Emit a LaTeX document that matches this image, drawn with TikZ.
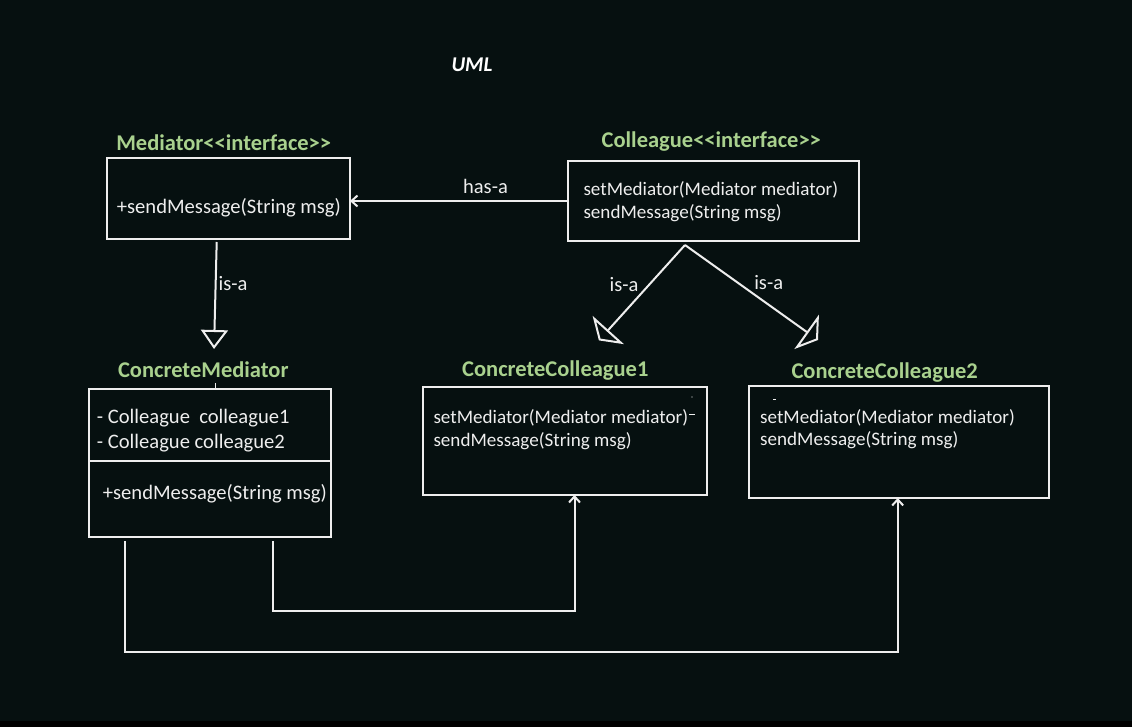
\documentclass[tikz,border=0pt]{standalone}
\usepackage{fontspec}
\setmainfont{Carlito}
\usetikzlibrary{arrows.meta,calc}
\definecolor{bg}{RGB}{6,16,16}
\definecolor{lbl}{RGB}{169,209,142}
\definecolor{ink}{RGB}{238,238,238}
\begin{document}
\begin{tikzpicture}[x=1pt,y=-1pt,
  box/.style={draw=ink,line width=2pt,inner sep=0pt,outer sep=0pt,anchor=north west},
  head/.style={text=lbl,font=\bfseries\fontsize{22.5}{26}\selectfont,inner sep=0pt},
  bodyA/.style={text=ink,font=\fontsize{20.6}{24}\selectfont,inner sep=0pt,anchor=west},
  bodyB/.style={text=ink,font=\fontsize{19.1}{23}\selectfont,inner sep=0pt,anchor=west},
  tag/.style={text=ink,font=\fontsize{20.5}{24}\selectfont,inner sep=0pt},
  conn/.style={draw=ink,line width=2pt},
  flow/.style={conn,-{Straight Barb[length=6pt,width=11pt]}},
  isav/.style={conn,-{Triangle[open,length=19pt,width=27pt]}},
  isad/.style={conn,-{Triangle[open,length=14pt,width=42pt]}},
  speck/.style={draw=ink,line width=1pt}]
\useasboundingbox (0,0) rectangle (1132,727);
\fill[bg] (0,0) rectangle (1132,721);
\fill[black] (0,721) rectangle (1132,727);

% title
\node[text=white,font=\bfseries\itshape\fontsize{21}{25}\selectfont,inner sep=0pt] (title) at (472,64.5) {UML};

% boxes
\node[box,minimum width=243pt,minimum height=81pt] (med) at (107,158) {};
\node[box,minimum width=291pt,minimum height=80pt] (col) at (568,161) {};
\node[box,minimum width=242pt,minimum height=148pt] (cm) at (89,389) {};
\node[box,minimum width=284pt,minimum height=108pt] (cc1) at (423,387) {};
\node[box,minimum width=300pt,minimum height=112pt] (cc2) at (749,386) {};
\draw[conn] (cm.west |- 0,461) -- (cm.east |- 0,461);

% headings
\node[head] (hmed) at (223.7,143) {Mediator<{}<interface>{}>};
\node[head] (hcol) at (711.3,141.5) {Colleague<{}<interface>{}>};
\node[head] (hcm) at (203.3,370) {ConcreteMediator};
\node[head] (hcc1) at (555.3,370.5) {ConcreteColleague1};
\node[head] (hcc2) at (884.7,372.3) {ConcreteColleague2};

% members
\node[bodyA] (tmed) at (116.7,208) {+sendMessage(String msg)};
\node[bodyB] (tcol1) at (583.3,190) {setMediator(Mediator mediator)};
\node[bodyB] (tcol2) at (583.3,213.3) {sendMessage(String msg)};
\node[bodyA] (tcm1) at (96.7,418.3) {- Colleague\ \ colleague1};
\node[bodyA] (tcm2) at (96.7,443.3) {- Colleague colleague2};
\node[bodyA] (tcm3) at (102.7,494) {+sendMessage(String msg)};
\node[bodyB] (tcc11) at (433.3,418.3) {setMediator(Mediator mediator)};
\node[bodyB] (tcc12) at (433.3,440.7) {sendMessage(String msg)};
\node[bodyB] (tcc21) at (760,417.7) {setMediator(Mediator mediator)};
\node[bodyB] (tcc22) at (760,440) {sendMessage(String msg)};

% small marks
\draw[speck] (215,383) -- (215,388);
\draw[speck] (689,414) -- (695,414);
\draw[speck] (773,399.5) -- (776,399.5);
\fill[ink] (692,397) circle (0.6pt);

% has-a
\draw[flow] (col.west) -- (col.west -| med.east);
\node[tag] (lhas) at (485.5,186) {has-a};

% is-a
\coordinate (s1) at (216.7,242);
\coordinate (e1) at (214,349);
\draw[isav] (s1) -- (e1);
\node[tag] (lisa1) at (233,284) {is-a};

\coordinate (s2) at (685,245);
\coordinate (e2) at (598.9,340.4);
\coordinate (e3) at (818,340);
\draw[isad] (s2) -- (e2);
\draw[isad] (s2) -- (e3);
\node[tag] (lisa2) at (624,284.3) {is-a};
\node[tag] (lisa3) at (768.7,282.7) {is-a};

% mediator to colleagues
\coordinate (a1) at (273.3,541);
\coordinate (k1) at (574.5,611);
\draw[flow] (a1) |- (k1) -- (k1 |- cc1.south);
\coordinate (a2) at (125,541);
\coordinate (k2) at (897.7,652.3);
\draw[flow] (a2) |- (k2) -- (k2 |- cc2.south);
\end{tikzpicture}
\end{document}
